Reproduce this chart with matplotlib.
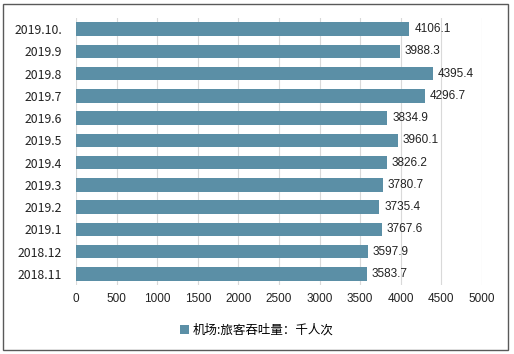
import matplotlib
matplotlib.use("Agg")
import matplotlib.pyplot as plt
from matplotlib.patches import Rectangle

categories = ["2019.10.", "2019.9", "2019.8", "2019.7", "2019.6", "2019.5",
              "2019.4", "2019.3", "2019.2", "2019.1", "2018.12", "2018.11"]
values = [4106.1, 3988.3, 4395.4, 4296.7, 3834.9, 3960.1,
          3826.2, 3780.7, 3735.4, 3767.6, 3597.9, 3583.7]
series_name = "机场:旅客吞吐量：千人次"
xticks = [0, 500, 1000, 1500, 2000, 2500, 3000, 3500, 4000, 4500, 5000]

plt.rcParams['font.family'] = ['Noto Sans CJK SC', 'DejaVu Sans']

fig = plt.figure(figsize=(5.14, 3.54), dpi=100)
ax = fig.add_axes([76/514, 1-285/354, (482-76)/514, (285-18)/354])

color = "#5B8FA6"
n = len(categories)
ypos = list(range(n))
ax.barh(ypos, values, height=0.6, color=color, zorder=3, label=series_name)
ax.set_ylim(n - 0.5, -0.5)
ax.set_xlim(0, 5000)
ax.set_xticks(xticks)
ax.set_xticklabels([str(t) for t in xticks], fontsize=8.5, family=['Liberation Sans'])
ax.set_yticks(ypos)
ax.set_yticklabels(categories, fontsize=8.8, family=['Noto Sans CJK SC'])
ax.tick_params(axis='both', length=0, pad=6, colors='#222222')
ax.tick_params(axis='y', pad=10)
ax.grid(axis='x', color='#D9D9D9', linewidth=0.8, zorder=0)
for s in ax.spines.values():
    s.set_visible(False)

for y, v in zip(ypos, values):
    ax.text(v + 60, y, f"{v:.1f}", va='center', ha='left', fontsize=8.5,
            family=['Liberation Sans'], color='#222222')

leg = fig.legend(loc='center', bbox_to_anchor=(0.5, 1-330/354), frameon=False,
                 fontsize=9, handlelength=0.7, handleheight=0.7, handletextpad=0.3)

fig.patches.append(Rectangle((3/514, 1-350/354), (508-3)/514, (350-4)/354,
                             transform=fig.transFigure, fill=False,
                             edgecolor='#595959', linewidth=1.0))

fig.savefig("out.png", dpi=100)
